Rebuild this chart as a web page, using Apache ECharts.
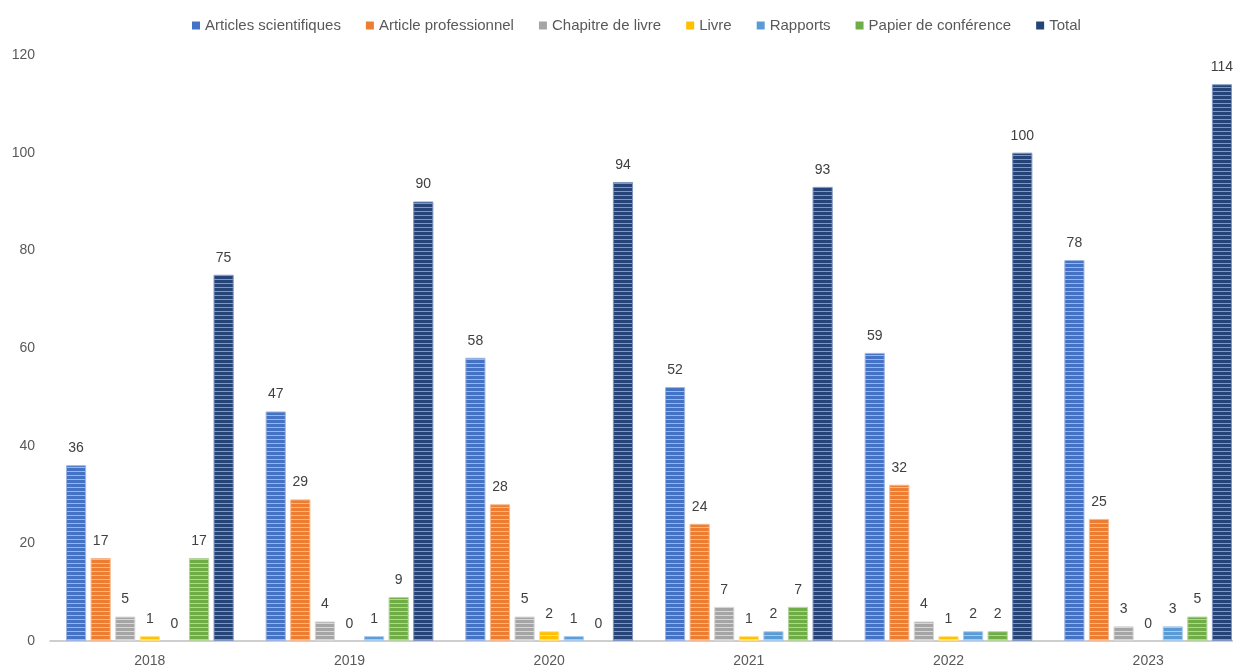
<!DOCTYPE html>
<html>
<head>
<meta charset="utf-8">
<script src="https://cdn.jsdelivr.net/npm/echarts@6/dist/echarts.min.js"></script>
<style>html,body{margin:0;padding:0;background:#fff}#c{width:1233px;height:669px}</style>
</head>
<body>
<div id="c"></div>
<script>
const categories = ['2018','2019','2020','2021','2022','2023'];
const seriesNames = ['Articles scientifiques','Article professionnel','Chapitre de livre','Livre','Rapports','Papier de conférence','Total'];
const articlesScientifiques = [36,47,58,52,59,78];
const articleProfessionnel = [17,29,28,24,32,25];
const chapitreDeLivre = [5,4,5,7,4,3];
const livre = [1,0,2,1,1,0];
const rapports = [0,1,1,2,2,3];
const papierConference = [17,9,0,7,2,5];
const total = [75,90,94,93,100,114];
const yTicks = {min:0, max:120, interval:20};

const colors = ['#4472C4','#ED7D31','#A5A5A5','#FFC000','#5B9BD5','#70AD47','#264478'];
const lights = ['#9DB5E3','#F6B88E','#D6D6D6','#FFDF80','#A9CBEB','#B3D59D','#7F97C2'];
const values = [articlesScientifiques, articleProfessionnel, chapitreDeLivre, livre, rapports, papierConference, total];

function pattern(base, light){
  const c = document.createElement('canvas');
  c.width = 4; c.height = 4;
  const g = c.getContext('2d');
  g.fillStyle = base; g.fillRect(0,0,4,4);
  g.fillStyle = light; g.fillRect(0,3,4,1);
  return {image:c, repeat:'repeat'};
}

const chart = echarts.init(document.getElementById('c'), null, {renderer:'canvas'});
const font = '"Liberation Sans", Arial, sans-serif';
chart.setOption({
  animation:false,
  color: colors,
  legend:{
    top:13, left:187, itemGap:25, itemWidth:8, itemHeight:8,
    icon:'rect',
    textStyle:{color:'#595959', fontSize:15, fontFamily:font},
    data: seriesNames.map((n,i)=>({name:n, itemStyle:{color:colors[i], borderWidth:0}}))
  },
  grid:{left:50, width:1198, top:55, bottom:28, containLabel:false, outerBoundsMode:'none'},
  xAxis:{
    type:'category', data:categories,
    axisLine:{lineStyle:{color:'#BFBFBF', width:1.5}},
    axisTick:{show:false},
    axisLabel:{color:'#595959', fontSize:14, fontFamily:font, margin:13}
  },
  yAxis:{
    type:'value', min:yTicks.min, max:yTicks.max, interval:yTicks.interval,
    axisLine:{show:false}, axisTick:{show:false}, splitLine:{show:false},
    axisLabel:{color:'#595959', fontSize:14, fontFamily:font, margin:15}
  },
  series: seriesNames.map((n,i)=>({
    name:n, type:'bar',
    data: values[i].map(v => v === 0 ? {value:v, itemStyle:{borderWidth:0, color:'rgba(0,0,0,0)'}} : v),
    barGap:'22%', barCategoryGap:'16%',
    itemStyle:{color:pattern(colors[i], lights[i]), borderColor:lights[i], borderWidth:1},
    label:{show:true, position:'top', distance:10, color:'#404040', fontSize:14, fontFamily:font}
  }))
});
</script>
</body>
</html>
